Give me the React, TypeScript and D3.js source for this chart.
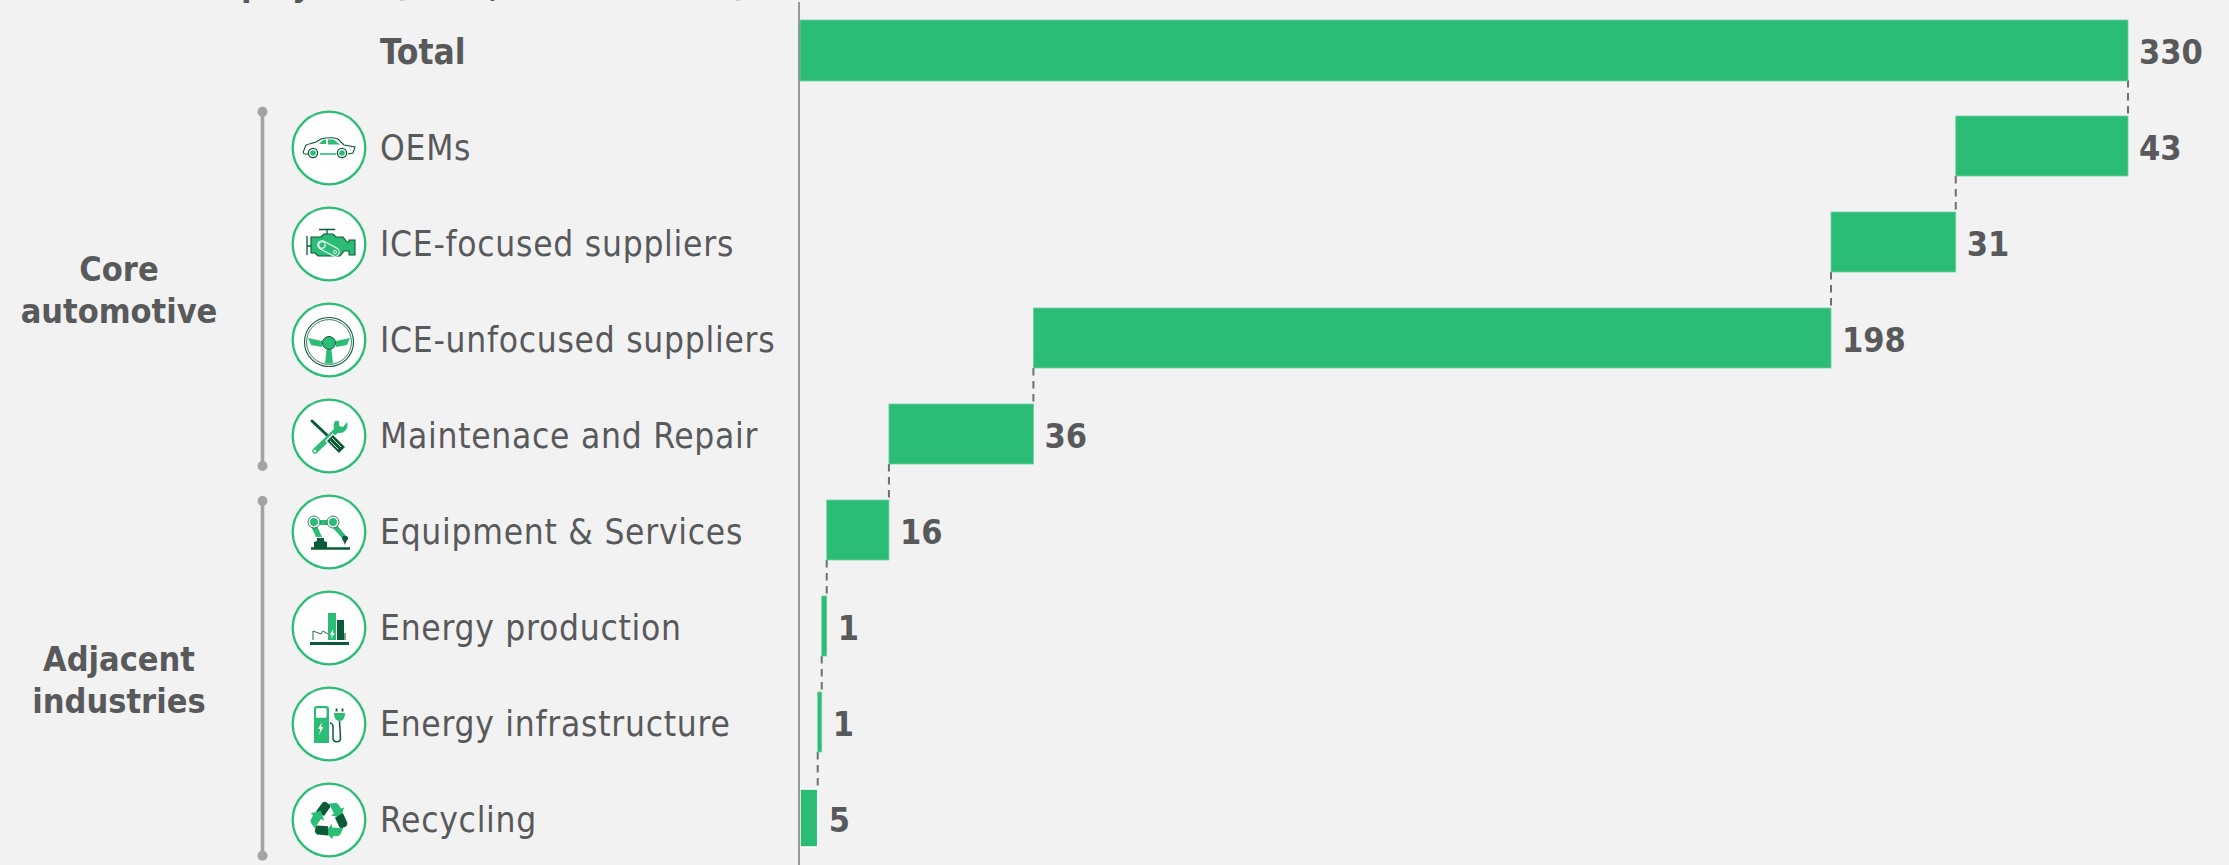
import React from "react";
import * as d3 from "d3";

const W = 2229;
const H = 865;
const BG = "#F2F2F2";
const GREEN = "#2BBC76";
const DARK = "#0B5A38";
const TEXT = "#58595B";
const FONT = "'DejaVu Sans Condensed', 'DejaVu Sans'";

const categories = [
  "Total",
  "OEMs",
  "ICE-focused suppliers",
  "ICE-unfocused suppliers",
  "Maintenace and Repair",
  "Equipment & Services",
  "Energy production",
  "Energy infrastructure",
  "Recycling",
];
// bar lengths; the printed figures are rounded
const values = [330, 42.8, 31, 198.2, 35.9, 15.46, 1.24, 1, 4.4];
const valueLabels = ["330", "43", "31", "198", "36", "16", "1", "1", "5"];
const groups = [
  { lines: ["Core", "automotive"] },
  { lines: ["Adjacent", "industries"] },
];
// only the lower edge of a clipped headline is visible at the very top
const headlineFragments = ["p", "y", "(", ",", ")"];

// layout
const fragmentX = [241, 292, 393, 489, 733];
const bracketEnds = [
  [111.7, 466],
  [501, 855.7],
];
const groupBaselines = [
  [280.7, 323.3],
  [671, 713],
];

const x = d3.scaleLinear().domain([0, 330]).range([800, 2128]);
const y = d3.scaleBand<string>().domain(categories).range([20, 848]).paddingInner(0.375);

type Seg = { name: string; label: string; start: number; end: number };
const segments: Seg[] = [];
{
  let level = values[0];
  categories.forEach((name, i) => {
    if (i === 0) {
      segments.push({ name, label: valueLabels[i], start: 0, end: values[0] });
    } else {
      segments.push({ name, label: valueLabels[i], start: level - values[i], end: level });
      level -= values[i];
    }
  });
}

const Car = () => (
  <g>
    <path d="M-21,6 L-24,6 C-26,6 -26,4 -25,2 L-23,-3 C-20,-4 -16,-5 -13,-6 L-8,-9 C-2,-10.5 5,-10.5 9,-9 L15,-3 L26,-1 L24,5 L19,6" fill="none" stroke={DARK} strokeWidth={1.1} />
    <path d="M-10,-4 L-6,-8 L-3,-8.5 L-3,-4 Z M-1,-8.5 L4,-8.5 C6,-8 9,-5 11,-3.5 L-1,-3.5 Z" fill={GREEN} />
    <path d="M-9,6 L7,6" stroke={GREEN} strokeWidth={1.6} />
    {[-16, 13].map((c) => (
      <g key={c}>
        <circle cx={c} cy={5} r={4.6} fill="#fff" stroke={DARK} strokeWidth={1.3} />
        <circle cx={c} cy={5} r={2.8} fill={GREEN} />
      </g>
    ))}
  </g>
);

const Engine = () => (
  <g>
    <path d="M-10,-14.5 L6,-14.5 M-2,-14.5 L-2,-10" stroke={DARK} strokeWidth={1.3} fill="none" />
    <path d="M-22,-8 L-22,11 M-22,2 L-18,2" stroke={DARK} strokeWidth={1.3} fill="none" />
    <path d="M-18,-7 L-8,-7 L-5,-10 L4,-10 L7,-7 L14,-7 L18,-2 L20,-2 L20,-4 L26,-4 L26,11 L20,11 L20,7 L15,7 L11,12 L-11,12 L-14,9 L-18,9 Z" fill={GREEN} stroke={DARK} strokeWidth={1.1} />
    <path d="M-7,1 L6,8" stroke="#fff" strokeWidth={9.5} strokeLinecap="round" />
    <path d="M-7,1 L6,8" stroke={GREEN} strokeWidth={7.5} strokeLinecap="round" />
    <circle cx={-7} cy={1} r={3.2} fill="none" stroke="#fff" strokeWidth={1.1} />
    <circle cx={6} cy={8} r={1.6} fill="none" stroke="#fff" strokeWidth={0.9} />
  </g>
);

const Wheel = () => (
  <g transform="translate(0,2)">
    <circle r={24.5} fill="none" stroke={DARK} strokeWidth={1.1} />
    <circle r={22.4} fill="none" stroke={DARK} strokeWidth={0.8} />
    <path d="M-21,-4 L-7,-1 L-7,5 L-18,3 Z M21,-4 L7,-1 L7,5 L18,3 Z M-2.5,8 L2.5,8 L4,21.5 L-4,21.5 Z" fill={GREEN} />
    <circle cy={1} r={6.5} fill={GREEN} stroke={DARK} strokeWidth={1} />
  </g>
);

const Tools = () => (
  <g>
    <path d="M-17,-15 L0,1" stroke={DARK} strokeWidth={3} strokeLinecap="round" />
    <path d="M-14,15 L9,-7" stroke={GREEN} strokeWidth={5.4} strokeLinecap="round" />
    <circle cx={-14} cy={15} r={1.3} fill="#fff" />
    <path d="M6,-15 C3,-9 5,-3 11,-3 C16,-3 20,-8 18,-14 L14,-9 L10,-10 L10,-15 Z" fill={GREEN} />
    <path d="M0,1 L13,14" stroke="#fff" strokeWidth={11} strokeLinecap="butt" />
    <path d="M1,2 L13,14" stroke={DARK} strokeWidth={8.4} strokeLinecap="butt" />
    <path d="M3,2 L12,11 M1,5 L9,13" stroke="#fff" strokeWidth={0.8} />
  </g>
);

const Robot = () => (
  <g>
    <path d="M-18,16.5 L21,16.5" stroke={DARK} strokeWidth={2.4} />
    <path d="M-15,16 L-15,10 L-12,9 L-12,6 L-5,6 L-5,9 L-2,10 L-2,16 Z" fill={DARK} />
    <path d="M-18,-6 L-12,-6 L-7,5 L-13,5 Z" fill={GREEN} />
    <rect x={-9} y={-12} width={10} height={5} fill={GREEN} />
    <path d="M3,-5 L8,-7 L17,4 L13,6 Z" fill={GREEN} />
    {[-15, 4].map((c) => (
      <g key={c}>
        <circle cx={c} cy={-10} r={6} fill="#fff" stroke={DARK} strokeWidth={0.8} />
        <circle cx={c} cy={-10} r={4} fill={GREEN} />
      </g>
    ))}
    <path d="M13,6 C13,3 19,3 19,6 C19,8 17,9 16,13 C15,9 13,8 13,6 Z" fill={DARK} />
  </g>
);

const Plant = () => (
  <g>
    <rect x={-19} y={14} width={39} height={3} fill={DARK} />
    <path d="M-16,12 L-16,3 L-8,6 L-6,3 L-1,6" fill="none" stroke={DARK} strokeWidth={0.9} />
    <rect x={-1} y={-15} width={8} height={27} fill={GREEN} />
    <rect x={8} y={-8} width={7} height={20} fill={DARK} />
    <rect x={15} y={5} width={2} height={7} fill="#8c9c94" />
    <path d="M4,1 L1,7 L3,7 L2,11 L6,5 L4,5 Z" fill="#fff" />
  </g>
);

const Charger = () => (
  <g>
    <path d="M-15,19 L-15,-15 Q-15,-18 -12,-18 L-3,-18 Q0,-18 0,-15 L0,19 Z" fill={GREEN} />
    <rect x={-13} y={-15.7} width={10.5} height={9.4} rx={1} fill="#fff" />
    <path d="M-7,-2 L-11,5 L-8.6,5 L-10,11 L-5.6,3 L-8,3 Z" fill="#fff" />
    <path d="M5,-11 L16,-11 C16,-6 14,-3 10.5,-3 C7,-3 5,-6 5,-11 Z" fill={GREEN} />
    <path d="M7.5,-15.5 L7.5,-12.5 M13.5,-15.5 L13.5,-12.5" stroke={DARK} strokeWidth={1.8} />
    <path d="M10.5,-3 L11.5,14 C11.5,19 4,19 4,14 L4,2 C4,0 2,-1 1,-1" fill="none" stroke={DARK} strokeWidth={1.5} />
  </g>
);

const Recycle = () => (
  <g>
    {[0, 120, 240].map((a) => (
      <g key={a} transform={`rotate(${a})`}>
        <path d="M-13,-8.5 L-6.5,-17.5 Q-5,-18.5 -3,-18 L1,-15 Q1.5,-13.5 1,-12.5 L-5,-4 Z" fill={DARK} />
        <path d="M0,-16.5 L7,-17 Q8.5,-17 9.5,-15.5 L12,-11.5 L15,-12.5 L12,-2.5 L2,-4.5 L5,-6.5 Z" fill={GREEN} />
      </g>
    ))}
  </g>
);

const icons: Record<string, React.ReactNode> = {
  OEMs: <Car />,
  "ICE-focused suppliers": <Engine />,
  "ICE-unfocused suppliers": <Wheel />,
  "Maintenace and Repair": <Tools />,
  "Equipment & Services": <Robot />,
  "Energy production": <Plant />,
  "Energy infrastructure": <Charger />,
  Recycling: <Recycle />,
};

export default function App() {
  const bw = y.bandwidth();
  return (
    <svg
      width={W}
      height={H}
      viewBox={`0 0 ${W} ${H}`}
      style={{ position: "absolute", left: 0, top: 0, background: BG, fontFamily: FONT }}
    >
      <rect width={W} height={H} fill={BG} />

      {headlineFragments.map((t, i) => (
        <text key={i} x={fragmentX[i]} y={-4} fontSize={34} fontWeight={700} fill={TEXT}>
          {t}
        </text>
      ))}

      {/* group brackets */}
      {groups.map((g, gi) => {
        const [y0, y1] = bracketEnds[gi];
        return (
          <g key={g.lines[0]}>
            <line x1={262.5} x2={262.5} y1={y0} y2={y1} stroke="#A3A3A3" strokeWidth={3.6} />
            <circle cx={262.5} cy={y0} r={5} fill="#A3A3A3" />
            <circle cx={262.5} cy={y1} r={5} fill="#A3A3A3" />
            {g.lines.map((t, i) => (
              <text
                key={t}
                x={119}
                y={groupBaselines[gi][i]}
                textAnchor="middle"
                fontSize={34}
                fontWeight={700}
                fill={TEXT}
              >
                {t}
              </text>
            ))}
          </g>
        );
      })}

      {/* category icons and labels */}
      {segments.map((s, i) => {
        const top = y(s.name) as number;
        return (
          <g key={s.name}>
            {i > 0 && (
              <g transform={`translate(329,${top + bw / 2 + 2})`}>
                <circle r={36.3} fill="#fff" stroke={GREEN} strokeWidth={2.3} />
                {icons[s.name]}
              </g>
            )}
            <text
              x={380}
              y={top + 43.8}
              fontSize={35}
              fontWeight={i === 0 ? 700 : 400}
              letterSpacing={i === 0 ? 0 : 0.74}
              fill={TEXT}
            >
              {s.name}
            </text>
          </g>
        );
      })}

      {/* connectors */}
      {segments.slice(0, -1).map((s, i) => {
        const next = segments[i + 1];
        const xa = i === 0 ? x(s.end) : x(s.start);
        return (
          <line
            key={`c${i}`}
            x1={xa}
            x2={x(next.end)}
            y1={(y(s.name) as number) + bw}
            y2={y(next.name) as number}
            stroke="#6E6E70"
            strokeWidth={2}
            strokeDasharray="7.5 5.5"
          />
        );
      })}

      {/* bars */}
      {segments.map((s, i) => {
        const top = y(s.name) as number;
        const last = i === segments.length - 1;
        return (
          <rect
            key={s.name}
            x={x(s.start)}
            y={top + (last ? 1 : 0)}
            width={x(s.end) - x(s.start)}
            height={i === 0 ? bw + 1 : last ? bw - 2 : bw}
            fill={GREEN}
            stroke={last ? "#FFFFFF" : "#6FD2A2"}
            strokeWidth={last ? 1.5 : 0.8}
          />
        );
      })}

      {/* value labels */}
      {segments.map((s) => (
        <text
          key={s.name}
          x={x(s.end) + 11}
          y={(y(s.name) as number) + 44.3}
          fontSize={34}
          fontWeight={700}
          fill={TEXT}
        >
          {s.label}
        </text>
      ))}

      {/* zero axis */}
      <line x1={799} x2={799} y1={2} y2={H} stroke="#808080" strokeWidth={1.6} />
    </svg>
  );
}
